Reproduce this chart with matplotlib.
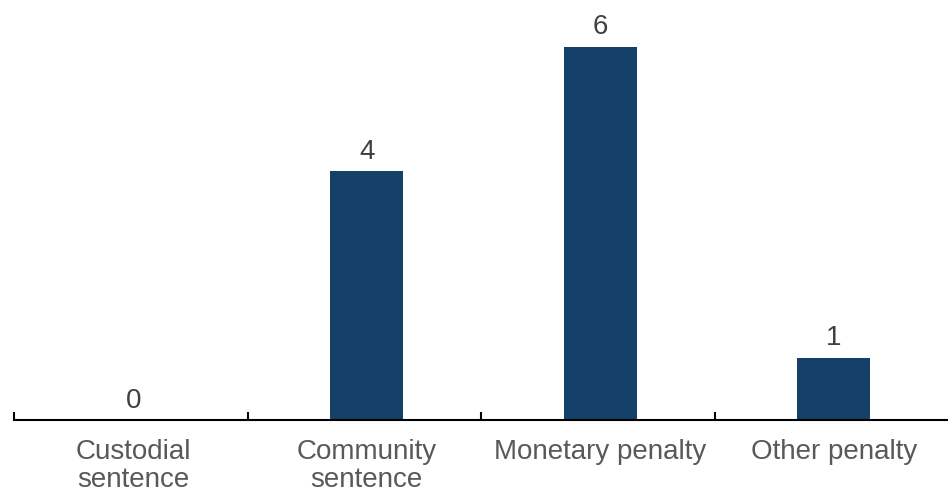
import matplotlib.pyplot as plt

categories = ['Custodial\nsentence', 'Community\nsentence', 'Monetary penalty', 'Other penalty']
counts = [0, 4, 6, 1]

plt.rcParams['font.family'] = ['Liberation Sans', 'DejaVu Sans']

fig = plt.figure(figsize=(9.48, 4.92), dpi=100)
ax = fig.add_axes([14 / 948, 72 / 492, 934 / 948, 420 / 492])

x = [i + 0.011 for i in range(len(categories))]
bars = ax.bar(x, counts, width=0.312, color='#15406a')

for xi, v in zip(x, counts):
    ax.annotate(str(v), (xi, v), xytext=(0, 9), textcoords='offset points',
                ha='center', va='baseline', fontsize=20, color='#404040')

ax.set_xlim(-0.5, 3.5)
ax.set_ylim(0, 6.75)

for s in ['top', 'right', 'left']:
    ax.spines[s].set_visible(False)
ax.spines['bottom'].set_linewidth(1.5)
ax.spines['bottom'].set_color('black')
ax.set_yticks([])

# category boundary ticks
ax.set_xticks([-0.5, 0.5, 1.5, 2.5])
ax.set_xticklabels([])
ax.tick_params(axis='x', direction='in', length=6, width=1.5, color='black')

for i, lab in enumerate(categories):
    ax.text(i + 0.011, -0.31, lab, ha='center', va='top', fontsize=20,
            color='#595959', linespacing=1.08)

fig.savefig('out.png', dpi=100)
